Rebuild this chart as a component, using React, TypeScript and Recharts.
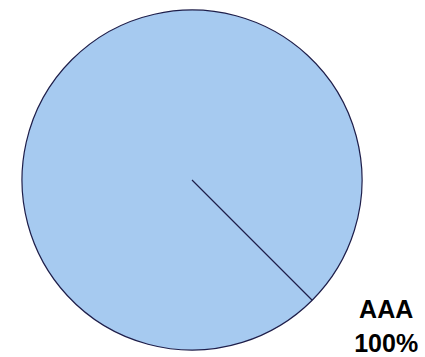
import { PieChart, Pie, Cell } from "recharts";

const categories = ["AAA"];
const values = [100];
const colors = ["#a6caf0"];

const data = categories.map((name, i) => ({ name, value: values[i] }));

const RADIAN = Math.PI / 180;

// label sits outside the slice's starting edge, two lines: name then percent
const renderLabel = (props: any) => {
  const { cx, cy, outerRadius, startAngle, name, percent } = props;
  const ex = cx + outerRadius * Math.cos(-startAngle * RADIAN);
  const ey = cy + outerRadius * Math.sin(-startAngle * RADIAN);
  const x = ex + 74;
  return (
    <text
      x={x}
      y={ey + 18}
      textAnchor="middle"
      fill="#000"
      style={{ fontFamily: "'Liberation Sans', Arial, sans-serif", fontSize: 25, fontWeight: 700 }}
    >
      <tspan x={x} dy={0}>{name}</tspan>
      <tspan x={x} dy={34}>{`${Math.round(percent * 100)}%`}</tspan>
    </text>
  );
};

const App = () => {
  return (
    <div style={{ position: "absolute", left: 0, top: 0, background: "#fff" }}>
      <PieChart width={425} height={357} margin={{ top: 0, right: 0, bottom: 0, left: 0 }}>
        <Pie
          data={data}
          dataKey="value"
          nameKey="name"
          cx={192}
          cy={180}
          outerRadius={170}
          startAngle={-45}
          endAngle={315}
          stroke="#1e1e4a"
          strokeWidth={1.2}
          label={renderLabel}
          labelLine={false}
          isAnimationActive={false}
        >
          {data.map((d, i) => (
            <Cell key={d.name} fill={colors[i]} />
          ))}
        </Pie>
      </PieChart>
    </div>
  );
};

export default App;
